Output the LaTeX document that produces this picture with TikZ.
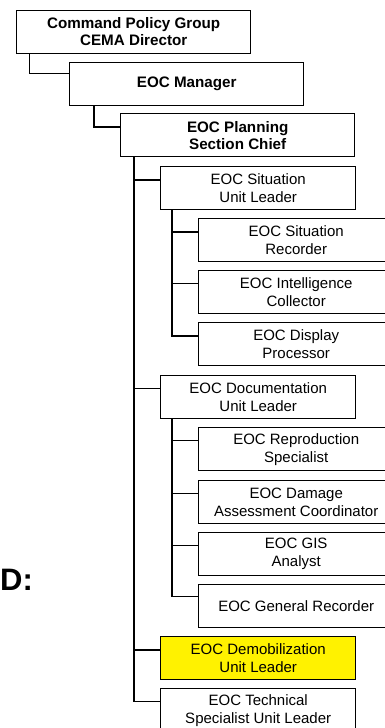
\documentclass[tikz,border=0pt]{standalone}
\usepackage{fontspec}
\setmainfont{Liberation Sans}
\usetikzlibrary{calc}

\tikzset{
  unit/.style={draw=black, line width=1.4pt, rectangle, anchor=north west,
    inner sep=0pt, align=center, minimum height=43,
    font=\fontsize{15}{18}\selectfont},
  head/.style={unit, font=\fontsize{15.2}{17}\selectfont\bfseries},
  wide/.style={minimum width=234},
  narrow/.style={minimum width=195},
  active/.style={fill=yellow},
  link/.style={draw=black, line width=1.3pt}
}

\begin{document}
\begin{tikzpicture}[x=1pt,y=-1pt]
\useasboundingbox (0,0) rectangle (385,728);
\clip (0,0) rectangle (385,728);

% command and section heads
\node[head, wide] (cpg) at (16,9.5) {Command Policy Group\\CEMA Director};
\node[head, wide] (mgr) at (69,62) {EOC Manager};
\node[head, wide] (plan) at (120,113) {EOC Planning\\Section Chief};

% situation unit
\node[unit, narrow] (sit) at (160,166) {EOC Situation\\Unit Leader};
\node[unit, narrow] (rec) at (198,218) {EOC Situation\\Recorder};
\node[unit, narrow] (intel) at (198,269.5) {EOC Intelligence\\Collector};
\node[unit, narrow] (disp) at (198,322) {EOC Display\\Processor};

% documentation unit
\node[unit, narrow] (doc) at (160,374.5) {EOC Documentation\\Unit Leader};
\node[unit, narrow] (repro) at (198,427) {EOC Reproduction\\Specialist};
\node[unit, narrow] (dmg) at (198,480) {EOC Damage\\Assessment Coordinator};
\node[unit, narrow] (gis) at (198,532) {EOC GIS\\Analyst};
\node[unit, narrow] (gen) at (198,583.5) {EOC General Recorder};

% remaining units
\node[unit, narrow, active] (demob) at (160,636) {EOC Demobilization\\Unit Leader};
\node[unit, narrow] (tech) at (160,688) {EOC Technical\\Specialist Unit Leader};

% side label
\node[anchor=base west, inner sep=0pt, font=\fontsize{31}{31}\selectfont\bfseries]
  (lbl) at (0,590.5) {D:};

% reporting lines
\draw[link] ($(cpg.south west)+(13.5,0)$) |- ($(mgr.north west)+(0,11.5)$);
\draw[link] ($(mgr.south west)+(25,0)$) |- ($(plan.north west)+(0,14)$);

\coordinate (p) at ($(plan.south west)+(14,0)$);
\draw[link] (p) |- ($(tech.north west)+(0,13.5)$);
\foreach \n in {sit,doc,demob}
  \draw[link] (p |- {$(\n.north west)+(0,14)$}) -- ($(\n.north west)+(0,14)$);

\coordinate (s) at ($(sit.south west)+(12,0)$);
\draw[link] (s) |- ($(disp.north west)+(0,14)$);
\foreach \n in {rec,intel}
  \draw[link] (s |- {$(\n.north west)+(0,14)$}) -- ($(\n.north west)+(0,14)$);

\coordinate (d) at ($(doc.south west)+(12,0)$);
\draw[link] (d) |- ($(gen.north west)+(0,13)$);
\foreach \n in {repro,dmg,gis}
  \draw[link] (d |- {$(\n.north west)+(0,13.5)$}) -- ($(\n.north west)+(0,13.5)$);
\end{tikzpicture}
\end{document}
